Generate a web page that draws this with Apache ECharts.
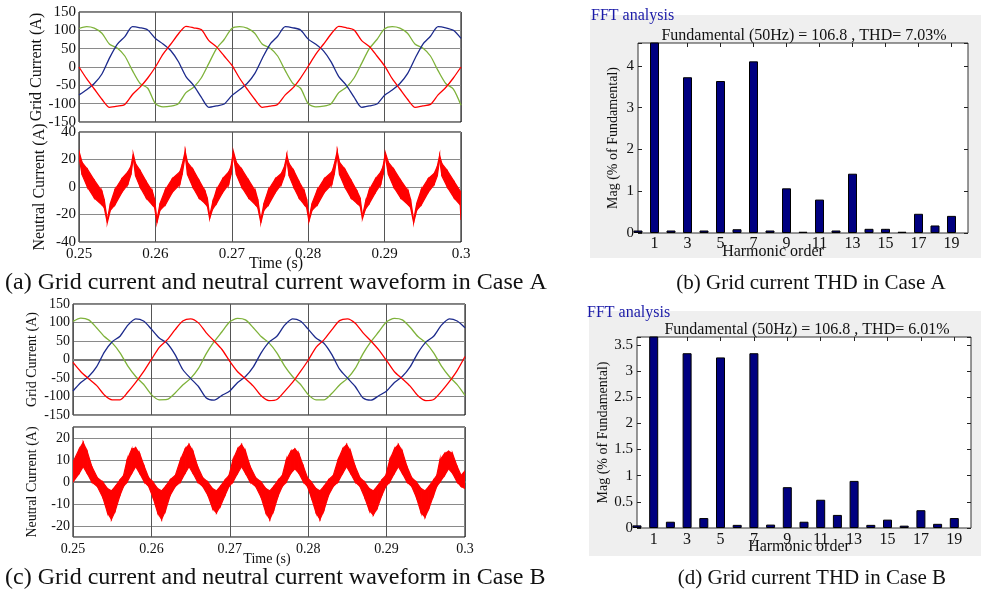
<!DOCTYPE html>
<html><head><meta charset="utf-8">
<script src="https://cdn.jsdelivr.net/npm/echarts@6/dist/echarts.min.js"></script>
<style>html,body{margin:0;padding:0;background:#fff}#c{width:981px;height:593px}</style>
</head><body><div id="c"></div>
<script>
// ---------------- DATA ----------------
// Time axis tick labels (s); waveform samples are 1 ms apart starting at 0.25 s
const timeTickLabels = ['0.25','0.26','0.27','0.28','0.29','0.3'];

// Case A grid currents (A), one sample per ms, 0.25 s .. 0.30 s
const gridA_red   = [0,-32,-60,-88,-110,-107,-102,-75,-55,-30, 0,35,62,90,111,107,102,72,55,30, 5,-30,-60,-88,-110,-107,-102,-76,-57,-30, 2,35,62,90,111,107,101,72,56,30, 3,-32,-60,-88,-110,-106,-102,-76,-56,-30, 0];
const gridA_blue  = [-76,-62,-45,-19,25,62,83,110,107,101, 78,63,45,15,-26,-50,-82,-110,-106,-101, -78,-62,-45,-18,24,62,84,110,107,101, 76,62,44,14,-26,-50,-82,-110,-106,-101, -77,-63,-45,-18,24,62,84,110,107,100, 78];
const gridA_green = [105,110,106,92,62,52,30,-10,-45,-58, -100,-109,-107,-100,-70,-55,-30,10,50,75, 105,110,106,92,62,52,30,-10,-45,-58, -100,-109,-107,-100,-70,-55,-30,10,50,75, 104,110,106,92,62,52,30,-10,-45,-60, -104];

// Case A neutral current envelope: time (ms after 0.25 s), upper and lower edge (A)
const nA_t  = [0,0.4,1.1,2.0,3.0,3.3,3.7, 4.1,4.7,5.6,6.4,6.8,7.1, 7.4,8.0,8.8,9.6,9.9,10.2, 10.6,11.3,12.2,13.2,13.5,13.9, 14.2,14.9,15.7,16.5,16.8,17.1, 17.5,18.0,18.8,19.6,19.9,20.2, 20.6,21.3,22.2,23.1,23.4,23.8, 24.2,24.8,25.7,26.5,26.9,27.2, 27.5,28.1,28.8,29.5,29.8,30.1, 30.5,31.2,32.1,33.1,33.4,33.8, 34.1,34.8,35.6,36.4,36.8,37.1, 37.5,38.0,38.8,39.5,39.8,40.1, 40.5,41.2,42.1,43.1,43.4,43.8, 44.2,44.8,45.7,46.5,46.9,47.2, 47.5,48.2,49.1,49.9,50.0];
const nA_hi = [26,18,13,5,-3,-9,-24, -12,-2,6,11,15,24, 17,12,4,-3,-9,-24, -12,-2,6,11,16,26, 18,13,5,-3,-8,-21, -11,-2,6,11,15,26, 18,13,5,-3,-9,-24, -12,-2,6,10,15,23, 17,12,4,-3,-9,-23, -12,-2,6,11,16,26, 18,13,5,-3,-8,-21, -11,-2,6,11,15,25, 18,13,5,-3,-9,-24, -12,-2,6,10,15,23, 17,12,4,-3,-16];
const nA_lo = [22,9,0,-8,-13,-15,-26, -17,-13,-4,2,9,21, 8,0,-8,-13,-15,-26, -17,-13,-4,2,9,23, 9,0,-8,-12,-14,-23, -16,-12,-4,2,9,23, 9,0,-8,-13,-15,-26, -17,-13,-4,2,8,20, 8,0,-8,-13,-15,-25, -17,-13,-4,2,9,23, 9,0,-8,-12,-14,-23, -16,-12,-4,2,9,22, 9,0,-8,-13,-15,-26, -17,-13,-4,2,8,20, 8,0,-8,-13,-24];

// Case B grid currents (A), one sample per ms
const gridB_red   = [-8,-33,-52,-70,-96,-109,-109,-88,-62,-33, 0,33,53,80,104,110,99,72,50,27, -5,-33,-52,-72,-98,-111,-108,-86,-62,-33, -2,33,53,80,105,110,98,72,50,26, -3,-33,-52,-72,-98,-111,-108,-86,-60,-30, 8];
const gridB_blue  = [-85,-62,-46,-20,20,48,63,93,110,104, 82,58,44,14,-27,-51,-73,-104,-110,-97, -85,-62,-46,-20,18,47,63,93,110,104, 82,58,44,14,-26,-50,-73,-104,-110,-98, -85,-62,-46,-20,18,47,63,93,110,104, 86];
const gridB_green = [103,112,107,86,62,45,18,-18,-46,-67, -95,-109,-108,-91,-69,-51,-24,16,48,75, 102,111,107,86,62,45,18,-18,-46,-67, -95,-109,-109,-92,-69,-51,-24,16,48,75, 102,111,107,87,62,45,18,-18,-46,-68, -97];

// Case B neutral current envelope
const nB_t  = [0.0,0.8,1.3,1.8,2.4,3.1,3.8,4.4,4.9,5.4,6.0,6.45, 6.9,7.5,8.0,8.5,9.1,9.65,10.2,10.8,11.3,11.8,12.4,13.05, 13.7,14.3,14.8,15.3,15.9,16.55,17.2,17.8,18.3,18.8,19.4,19.9, 20.4,21.0,21.5,22.0,22.6,23.3,24.0,24.6,25.1,25.6,26.2,26.7, 27.2,27.8,28.3,28.8,29.4,29.9,30.4,31.0,31.5,32.0,32.6,33.2, 33.8,34.4,34.9,35.4,36.0,36.6,37.2,37.8,38.3,38.8,39.4,39.9, 40.4,41.0,41.5,42.0,42.6,43.2,43.8,44.4,44.9,45.4,46.0,46.4, 46.8,47.4,47.9,48.4,49.0,49.5,50.0];
const nB_hi = [9,15,18,14,7,2,0,-3,-4,-2,1,3, 10,15,15.5,13,7,2,0,-3,-4,-2,1,3, 10,15,17,14,7,2,0,-3,-4,-2,1,3, 10,15,17,14,7,2,0,-3,-4,-2,1,3, 10,14,15,13,7,2,0,-3,-4,-2,1,3, 10,15,17,14,7,2,0,-3,-4,-2,1,3, 10,15,17,14,7,2,0,-3,-4,-2,1,3, 10,13,14,13,7,3,5];
const nB_lo = [0,4,7,4,0,-2,-7,-14,-17,-13,-6,-2, 0,4,7,4,0,-2,-7,-14,-17,-13,-6,-2, 0,4,7,4,0,-2,-6,-12,-14,-11,-6,-2, 0,4,7,4,0,-2,-7,-14,-17,-13,-6,-2, 0,4,6,4,0,-2,-7,-14,-17,-13,-6,-2, 0,4,7,4,0,-2,-7,-13,-15,-12,-6,-2, 0,4,7,4,0,-2,-7,-14,-16,-12,-6,-2, 0,3,6,4,0,-2,-3];

// FFT: harmonic orders 0..20 and magnitudes (% of fundamental); fundamental = 100 (off scale)
const harmonicOrders = [0,1,2,3,4,5,6,7,8,9,10,11,12,13,14,15,16,17,18,19,20];
const fftA_mag = [0.06,100,0.06,3.73,0.06,3.64,0.09,4.11,0.06,1.07,0.03,0.80,0.06,1.42,0.10,0.10,0.03,0.46,0.18,0.41];
const fftB_mag = [0.05,100,0.12,3.34,0.19,3.26,0.06,3.34,0.065,0.78,0.12,0.54,0.25,0.90,0.06,0.16,0.045,0.34,0.08,0.19];

// ---------------- STYLE / LAYOUT ----------------
const SERIF = '"Liberation Serif","Times New Roman",serif';
const C_RED = '#ff0000', C_BLUE = '#1c2a8c', C_GREEN = '#7eb23a';

function waveX(gi, showLabels, fs) {
  return {type:'value', gridIndex:gi, min:0, max:50, interval:10,
    axisLine:{show:false, onZero:false}, axisTick:{show:false},
    axisLabel:{show:showLabels, color:'#111', fontFamily:SERIF, fontSize:fs, margin:5,
      formatter: v => timeTickLabels[Math.round(v/10)]},
    splitLine:{show:true, lineStyle:{color:'#555', width:1}}};
}
function zeroX(gi) {
  return {type:'value', gridIndex:gi, min:0, max:50, position:'top',
    axisLine:{show:true, onZero:true, lineStyle:{color:'#7a7a7a', width:2}},
    axisTick:{show:false}, axisLabel:{show:false}, splitLine:{show:false}};
}
function waveY(gi, min, max, interval, name, fs, nfs, gap) {
  const o = {type:'value', gridIndex:gi, min, max,
    axisLine:{show:false, onZero:false}, axisTick:{show:false},
    axisLabel:{color:'#111', fontFamily:SERIF, fontSize:fs, margin:3,
      formatter: v => (Math.abs(v) % 10 === 0 ? String(v) : '')},
    splitLine:{show:true, lineStyle:{color:'#8a8a8a', width:1}},
    name, nameLocation:'middle', nameGap:gap,
    nameTextStyle:{fontFamily:SERIF, fontSize:nfs, color:'#111'}};
  if (interval) o.interval = interval;
  return o;
}
function fftX(gi, pos, showLabel, margin) {
  return {type:'category', gridIndex:gi, position:pos, data:harmonicOrders.map(String), boundaryGap:false,
    axisLine:{show:false, onZero:false},
    axisTick:{show:true, inside:true, length:4, interval:(i)=>i%2===1, lineStyle:{color:'#222'}},
    axisLabel:{show:showLabel, interval:(i)=>i%2===1, color:'#111', fontFamily:SERIF, fontSize:16, margin},
    splitLine:{show:false}};
}
function fftY(gi, pos, max, interval, showLabel, fmt, gap) {
  return {type:'value', gridIndex:gi, position:pos, min:0, max, interval,
    axisLine:{show:false, onZero:false},
    axisTick:{show:true, inside:true, length:4, lineStyle:{color:'#222'}},
    axisLabel:{show:showLabel, color:'#111', fontFamily:SERIF, fontSize:15, margin:4, formatter:fmt},
    splitLine:{show:false},
    name: showLabel ? 'Mag (% of Fundamental)' : '', nameLocation:'middle', nameGap:gap,
    nameTextStyle:{fontFamily:SERIF, fontSize:14, color:'#111'}};
}
function waveLine(xi, yi, arr, color) {
  return {type:'line', xAxisIndex:xi, yAxisIndex:yi, data:arr.map((v,i)=>[i,v]),
    showSymbol:false, smooth:0.25, lineStyle:{color, width:1.3}, itemStyle:{color}, z:3};
}
function band(xi, yi, ts, hi, lo) {
  return {type:'custom', xAxisIndex:xi, yAxisIndex:yi, clip:true, z:3,
    data: ts.map((t,i)=>[t, hi[i], lo[i]]),
    encode:{x:0, y:[1,2]},
    renderItem: function(params, api) {
      const i = params.dataIndex;
      if (i >= ts.length - 1) return null;
      const pts = [api.coord([ts[i], hi[i]]), api.coord([ts[i+1], hi[i+1]]),
                   api.coord([ts[i+1], lo[i+1]]), api.coord([ts[i], lo[i]])];
      return {type:'polygon', shape:{points:pts}, style:{fill:C_RED, stroke:C_RED, lineWidth:1.2}};
    }};
}
function bars(xi, yi, arr) {
  return {type:'bar', xAxisIndex:xi, yAxisIndex:yi, data:arr, barWidth:9, clip:true,
    itemStyle:{color:'#000080', borderColor:'#000', borderWidth:1}};
}
function txt(x, y, s, size, align, fill) {
  return {type:'text', z:20, x, y, style:{text:s, fill:fill||'#111', font:size+'px '+SERIF,
    textAlign:align||'left', align:align||'left', textVerticalAlign:'middle', verticalAlign:'middle'}};
}
const gridBase = {show:true, borderColor:'#000', borderWidth:1, backgroundColor:'#fff', outerBoundsMode:'none', containLabel:false};

const option = {
  animation:false,
  backgroundColor:'#fff',
  grid:[
    Object.assign({left:79, top:12, width:382, height:110}, gridBase),
    Object.assign({left:79, top:132, width:382, height:110}, gridBase),
    Object.assign({left:638, top:43, width:330, height:190}, gridBase, {borderColor:'#333'}),
    Object.assign({left:73, top:304, width:392, height:111}, gridBase),
    Object.assign({left:73, top:427, width:392, height:110}, gridBase),
    Object.assign({left:637, top:337, width:334, height:191}, gridBase, {borderColor:'#333'})
  ],
  xAxis:[
    waveX(0,false,15),
    waveX(1,true,15),
    fftX(2,'bottom',true,3),
    fftX(2,'top',false,3),
    waveX(3,false,14),
    waveX(4,true,14),
    fftX(5,'bottom',true,4),
    fftX(5,'top',false,4),
    zeroX(3),
    zeroX(4)
  ],
  yAxis:[
    waveY(0,-150,150,50,'Grid Current (A)',15,16,31),
    waveY(1,-40,40,20,'Neutral Current (A)',15,16,31),
    fftY(2,'left',4.55,1,true, v => (Number.isInteger(v) ? String(v) : ''),18),
    fftY(2,'right',4.55,1,false,null,0),
    waveY(3,-150,150,50,'Grid Current (A)',14,14,34),
    waveY(4,-25,25,null,'Neutral Current (A)',14,14,34),
    fftY(5,'left',3.65,0.5,true, v => (Math.abs(v*2 - Math.round(v*2)) < 1e-9 ? String(v) : ''),24),
    fftY(5,'right',3.65,0.5,false,null,0)
  ],
  series:[
    waveLine(0,0,gridA_green,C_GREEN),
    waveLine(0,0,gridA_blue,C_BLUE),
    waveLine(0,0,gridA_red,C_RED),
    band(1,1,nA_t,nA_hi,nA_lo),
    bars(2,2,fftA_mag),
    waveLine(4,4,gridB_green,C_GREEN),
    waveLine(4,4,gridB_blue,C_BLUE),
    waveLine(4,4,gridB_red,C_RED),
    band(5,5,nB_t,nB_hi,nB_lo),
    bars(6,6,fftB_mag)
  ],
  graphic:[
    {type:'rect', z:-10, shape:{x:590,y:15,width:391,height:243}, style:{fill:'#efefef'}},
    {type:'rect', z:-10, shape:{x:589,y:311,width:392,height:245}, style:{fill:'#efefef'}},
    txt(591,16,'FFT analysis',16,'left','#1a1aa8'),
    txt(804,36,'Fundamental (50Hz) = 106.8 , THD= 7.03%',16,'center'),
    txt(773,252,'Harmonic order',16,'center'),
    txt(587,313,'FFT analysis',16,'left','#1a1aa8'),
    txt(807,330,'Fundamental (50Hz) = 106.8 , THD= 6.01%',16,'center'),
    txt(799,547,'Harmonic order',16,'center'),
    txt(276,264,'Time (s)',16,'center'),
    txt(267,559,'Time (s)',14,'center'),
    txt(5,283,'(a) Grid current and neutral current waveform in Case A',24,'left'),
    txt(811,283,'(b) Grid current THD in Case A',21,'center'),
    txt(5,578,'(c) Grid current and neutral current waveform in Case B',24,'left'),
    txt(812,578,'(d) Grid current THD in Case B',21,'center')
  ]
};
const chart = echarts.init(document.getElementById('c'), null, {renderer:'canvas'});
chart.setOption(option);
</script>
</body></html>
